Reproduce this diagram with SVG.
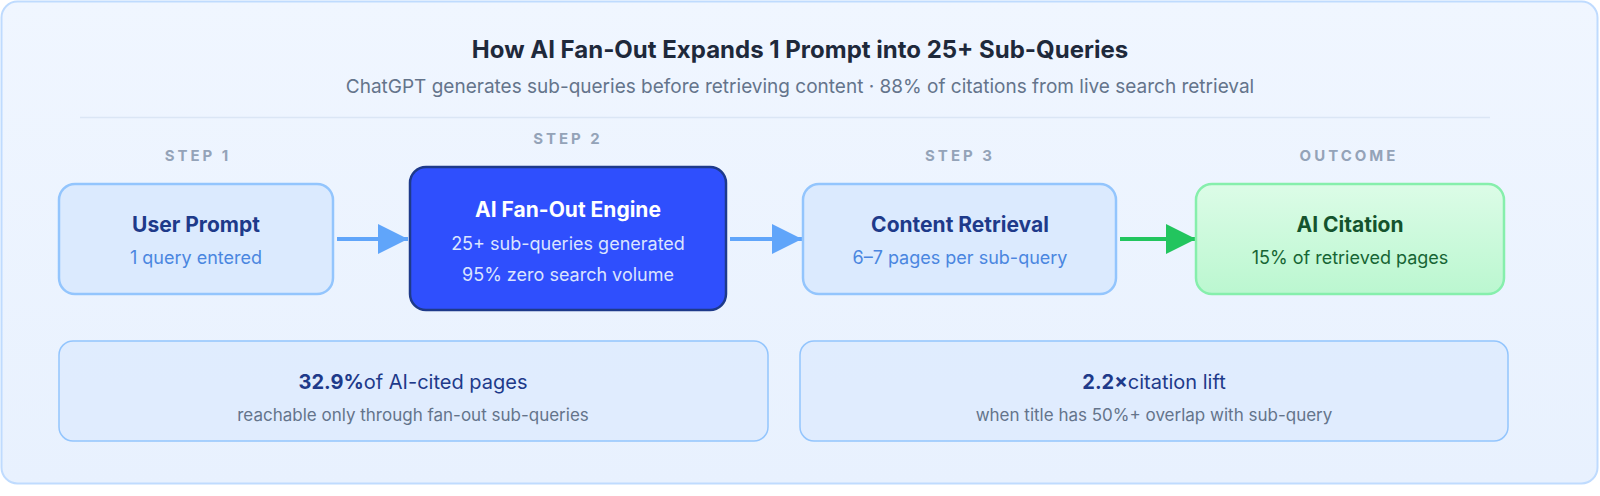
<svg xmlns="http://www.w3.org/2000/svg" width="1600" height="496" viewBox="0 0 1600 496">
<style>
text{font-family:Inter,"Liberation Sans",sans-serif;text-anchor:middle}
.step{font-size:15px;font-weight:700;fill:#94a3b8;letter-spacing:3px}
.t{font-size:21px;font-weight:700}
.s{font-size:18px}
.lite{fill:#dbeafe;stroke:#93c5fd;stroke-width:2.5}
.box{fill:#dbeafe;fill-opacity:.7;stroke:#93c5fd;stroke-width:1.5}
</style>
<defs>
<linearGradient id="bg" x1="0" y1="0" x2="0" y2="1"><stop offset="0" stop-color="#f0f6ff"/><stop offset="1" stop-color="#e8f1fe"/></linearGradient>
<linearGradient id="gr" x1="0" y1="0" x2="0" y2="1"><stop offset="0" stop-color="#dcfce7"/><stop offset="1" stop-color="#bbf7d0"/></linearGradient>
<marker id="ab" markerWidth="30" markerHeight="30" refX="30" refY="15" orient="auto" markerUnits="userSpaceOnUse" viewBox="0 0 30 30"><path d="M0,0L30,15L0,30z" fill="#60a5fa"/></marker>
<marker id="ag" markerWidth="30" markerHeight="30" refX="30" refY="15" orient="auto" markerUnits="userSpaceOnUse" viewBox="0 0 30 30"><path d="M0,0L30,15L0,30z" fill="#22c55e"/></marker>
</defs>
<rect x="1.5" y="1.5" width="1596" height="482" rx="16" fill="url(#bg)" stroke="#bfdbfe" stroke-width="2"/>
<text x="800" y="58" font-size="24" font-weight="700" fill="#1e293b">How AI Fan-Out Expands 1 Prompt into 25+ Sub-Queries</text>
<text x="800" y="93" font-size="19" fill="#64748b">ChatGPT generates sub-queries before retrieving content · 88% of citations from live search retrieval</text>
<line x1="80" y1="117.5" x2="1490" y2="117.5" stroke="#dbe6f5" stroke-width="1.5"/>
<text class="step" x="198" y="161">STEP 1</text>
<text class="step" x="568" y="144">STEP 2</text>
<text class="step" x="960" y="161">STEP 3</text>
<text class="step" x="1349" y="161">OUTCOME</text>
<g id="connectors">
<line x1="337" y1="239" x2="408" y2="239" stroke="#60a5fa" stroke-width="4" marker-end="url(#ab)"/>
<line x1="730" y1="239" x2="802" y2="239" stroke="#60a5fa" stroke-width="4" marker-end="url(#ab)"/>
<line x1="1120" y1="239" x2="1196" y2="239" stroke="#22c55e" stroke-width="4" marker-end="url(#ag)"/>
</g>
<g id="user-prompt">
<rect class="lite" x="59" y="184" width="274" height="110" rx="16"/>
<text class="t" x="196" y="232" fill="#1e3a8a">User Prompt</text>
<text class="s" x="196" y="264" fill="#4a86e0">1 query entered</text>
</g>
<g id="fan-out">
<rect x="410" y="167" width="316" height="143" rx="16" fill="#2f4ffd" stroke="#1e3a8a" stroke-width="2.5"/>
<text class="t" x="568" y="217" fill="#ffffff">AI Fan-Out Engine</text>
<text class="s" x="568" y="250" fill="#dbe4ff">25+ sub-queries generated</text>
<text class="s" x="568" y="281" fill="#dbe4ff">95% zero search volume</text>
</g>
<g id="retrieval">
<rect class="lite" x="803" y="184" width="313" height="110" rx="16"/>
<text class="t" x="960" y="232" fill="#1e3a8a">Content Retrieval</text>
<text class="s" x="960" y="264" fill="#4a86e0">6–7 pages per sub-query</text>
</g>
<g id="citation">
<rect x="1196" y="184" width="308" height="110" rx="16" fill="url(#gr)" stroke="#86efac" stroke-width="2.5"/>
<text class="t" x="1350" y="232" fill="#14532d">AI Citation</text>
<text class="s" x="1350" y="264" fill="#166534">15% of retrieved pages</text>
</g>
<g id="stat-1">
<rect class="box" x="59" y="341" width="709" height="100" rx="14"/>
<text x="413" y="389" font-size="20" fill="#1e3a8a"><tspan font-weight="700">32.9%</tspan>of AI-cited pages</text>
<text x="413" y="421" font-size="17" fill="#64748b">reachable only through fan-out sub-queries</text>
</g>
<g id="stat-2">
<rect class="box" x="800" y="341" width="708" height="100" rx="14"/>
<text x="1154" y="389" font-size="20" fill="#1e3a8a"><tspan font-weight="700">2.2×</tspan>citation lift</text>
<text x="1154" y="421" font-size="17" fill="#64748b">when title has 50%+ overlap with sub-query</text>
</g>
</svg>
